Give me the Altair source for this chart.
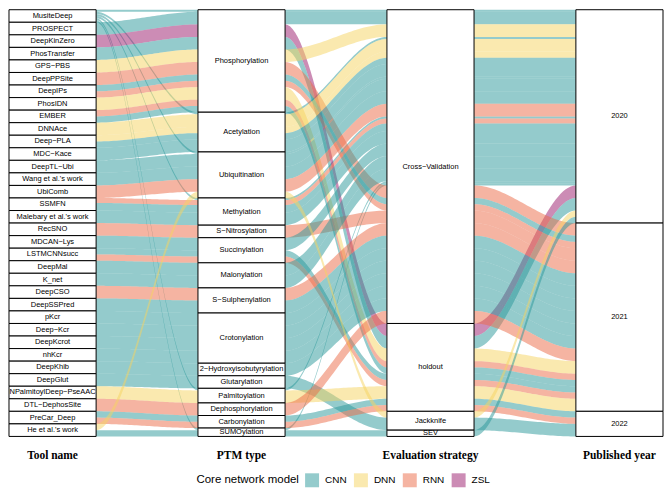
import altair as alt
import pandas as pd

# ---------------- data ----------------
axis_titles = ["Tool name", "PTM type", "Evaluation strategy", "Published year"]

tools = ["MusiteDeep", "PROSPECT", "DeepKinZero", "PhosTransfer", "GPS−PBS", "DeepPPSite",
         "DeepIPs", "PhosIDN", "EMBER", "DNNAce", "Deep−PLA", "MDC−Kace", "DeepTL−Ubi",
         "Wang et al.'s work", "UbiComb", "SSMFN", "Malebary et al.'s work", "RecSNO",
         "MDCAN−Lys", "LSTMCNNsucc", "DeepMal", "K_net", "DeepCSO", "DeepSSPred", "pKcr",
         "Deep−Kcr", "DeepKcrot", "nhKcr", "DeepKhib", "DeepGlut", "NPalmitoylDeep−PseAAC",
         "DTL−DephosSite", "PreCar_Deep", "He et al.'s work"]
ptms = ["Phosphorylation", "Acetylation", "Ubiquitination", "Methylation", "S−Nitrosylation",
        "Succinylation", "Malonylation", "S−Sulphenylation", "Crotonylation",
        "2−Hydroxyisobutyrylation", "Glutarylation", "Palmitoylation", "Dephosphorylation",
        "Carbonylation", "SUMOylation"]
evals = ["Cross−Validation", "holdout", "Jackknife", "SEV"]
years = ["2020", "2021", "2022"]
models = ["CNN", "DNN", "RNN", "ZSL"]
model_colors = ["#2a989a", "#f6d460", "#ec6a45", "#9a1a6c"]

flow_tool = ["MusiteDeep"] * 6 + [
    "PROSPECT", "DeepKinZero", "PhosTransfer", "GPS−PBS", "DeepPPSite", "DeepIPs", "DeepIPs",
    "PhosIDN", "EMBER", "EMBER", "DNNAce", "Deep−PLA", "Deep−PLA", "MDC−Kace", "DeepTL−Ubi",
    "Wang et al.'s work", "UbiComb", "SSMFN", "SSMFN", "Malebary et al.'s work", "RecSNO",
    "MDCAN−Lys", "LSTMCNNsucc", "LSTMCNNsucc", "DeepMal", "K_net", "DeepCSO", "DeepSSPred",
    "pKcr", "Deep−Kcr", "DeepKcrot", "nhKcr", "DeepKhib", "DeepGlut", "NPalmitoylDeep−PseAAC",
    "DTL−DephosSite", "PreCar_Deep", "PreCar_Deep", "He et al.'s work", "He et al.'s work"]
flow_ptm = ["Phosphorylation", "Acetylation", "Ubiquitination", "Methylation", "Palmitoylation",
            "SUMOylation",
            "Phosphorylation", "Phosphorylation", "Phosphorylation", "Phosphorylation",
            "Phosphorylation", "Phosphorylation", "Phosphorylation", "Phosphorylation",
            "Phosphorylation", "Phosphorylation", "Acetylation", "Acetylation", "Acetylation",
            "Acetylation", "Ubiquitination", "Ubiquitination", "Ubiquitination", "Methylation",
            "Methylation", "Methylation", "S−Nitrosylation", "Succinylation", "Succinylation",
            "Succinylation", "Malonylation", "Malonylation", "S−Sulphenylation",
            "S−Sulphenylation", "Crotonylation", "Crotonylation", "Crotonylation",
            "Crotonylation", "2−Hydroxyisobutyrylation", "Glutarylation", "Palmitoylation",
            "Dephosphorylation", "Carbonylation", "Carbonylation", "Ubiquitination",
            "SUMOylation"]
flow_eval = ["Cross−Validation"] * 6 + [
    "Cross−Validation", "holdout", "holdout", "Cross−Validation", "Cross−Validation",
    "Cross−Validation", "Cross−Validation", "holdout", "holdout", "holdout",
    "Cross−Validation", "Cross−Validation", "Cross−Validation", "Cross−Validation",
    "Cross−Validation", "Cross−Validation", "Cross−Validation", "Cross−Validation",
    "Cross−Validation", "Cross−Validation", "Cross−Validation", "Cross−Validation",
    "holdout", "holdout", "Cross−Validation", "Cross−Validation", "Cross−Validation",
    "Cross−Validation", "Cross−Validation", "Cross−Validation", "Cross−Validation",
    "Cross−Validation", "Cross−Validation", "Jackknife", "holdout", "Cross−Validation",
    "holdout", "holdout", "Jackknife", "SEV"]
flow_year = ["2020"] * 6 + [
    "2020", "2020", "2020", "2020", "2021", "2021", "2021", "2021", "2021", "2021",
    "2020", "2020", "2020", "2020", "2020", "2020", "2020", "2020", "2020", "2020",
    "2021", "2020", "2021", "2021", "2020", "2020", "2021", "2021", "2021", "2021",
    "2021", "2021", "2021", "2022", "2021", "2021", "2022", "2022", "2020", "2020"]
flow_model = ["CNN"] * 6 + [
    "CNN", "ZSL", "CNN", "DNN", "RNN", "CNN", "RNN", "DNN", "RNN", "CNN",
    "DNN", "DNN", "CNN", "CNN", "CNN", "CNN", "RNN", "RNN", "CNN", "CNN",
    "RNN", "CNN", "CNN", "RNN", "CNN", "CNN", "RNN", "CNN", "CNN", "CNN",
    "CNN", "CNN", "CNN", "CNN", "DNN", "RNN", "CNN", "RNN", "DNN", "CNN"]
flow_weight = [0.1667] * 6 + [
    1, 1, 1, 1, 1, 0.5, 0.5, 1, 0.5, 0.5,
    1, 0.5, 0.5, 1, 1, 1, 1, 0.4, 0.6, 1,
    1, 1, 0.5, 0.5, 1, 1, 1, 1, 1, 1,
    1, 1, 1, 1, 1, 1, 0.5, 0.5, 0.5, 0.5]

# ---------------- layout (alluvial lodes) ----------------
cats = [tools, ptms, evals, years]
fields = [flow_tool, flow_ptm, flow_eval, flow_year]
N = len(flow_weight)
idx = [[cats[a].index(fields[a][i]) for i in range(N)] for a in range(4)]
prefs = {0: [1, 2, 3], 1: [0, 2, 3], 2: [3, 1, 0], 3: [2, 1, 0]}
total = sum(flow_weight)

lode = [[None] * N for _ in range(4)]
for a in range(4):
    order = sorted(range(N), key=lambda i: (idx[a][i],) + tuple(idx[o][i] for o in prefs[a]) + (i,))
    c = 0.0
    for i in order:
        lode[a][i] = (c, c + flow_weight[i])
        c += flow_weight[i]

hw = 0.2305
box_rows = []
for a in range(4):
    c = 0.0
    for s, name in enumerate(cats[a]):
        w = sum(flow_weight[i] for i in range(N) if idx[a][i] == s)
        box_rows.append(dict(x=a - hw, x2=a + hw, y=c, y2=c + w, xm=a, ym=c + w / 2, label=name))
        c += w
boxes = pd.DataFrame(box_rows)

flow_rows = []
T = 40
for a in range(3):
    for i in range(N):
        (t0, b0), (t1, b1) = lode[a][i], lode[a + 1][i]
        for k in range(T + 1):
            t = k / T
            s = t * t * (3 - 2 * t)
            flow_rows.append(dict(fid=f"{a}_{i}", model=flow_model[i],
                                  x=a + hw + (1 - 2 * hw) * t,
                                  top=t0 + (t1 - t0) * s, bot=b0 + (b1 - b0) * s))
flows_df = pd.DataFrame(flow_rows)

H = 428
title_y = 448 / H * total
titles = pd.DataFrame(dict(x=[0, 1, 2, 3], y=[title_y] * 4, label=axis_titles))

xs = alt.Scale(domain=[-hw, 3 + hw], nice=False, zero=False)
ys = alt.Scale(domain=[0, total], reverse=True, nice=False, zero=False)

FONT = "Liberation Sans"

flows = alt.Chart(flows_df).mark_area(opacity=0.5, interpolate="linear").encode(
    x=alt.X("x:Q", scale=xs, axis=None),
    y=alt.Y("top:Q", scale=ys, axis=None, stack=None),
    y2="bot:Q",
    color=alt.Color("model:N", scale=alt.Scale(domain=models, range=model_colors),
                    legend=alt.Legend(title="Core network model", orient="none",
                                      legendX=188, legendY=465, direction="horizontal",
                                      titleOrient="left", symbolType="square",
                                      symbolSize=196, symbolOpacity=0.5,
                                      symbolStrokeWidth=0, labelFontSize=10,
                                      titleFontSize=11.5, titleFontWeight="normal",
                                      titleFont=FONT, labelFont=FONT,
                                      columnPadding=7, titlePadding=6, labelOffset=6)),
    detail="fid:N",
)

rects = alt.Chart(boxes).mark_rect(fill="white", stroke="black", strokeWidth=1).encode(
    x=alt.X("x:Q", scale=xs, axis=None), x2="x2:Q",
    y=alt.Y("y:Q", scale=ys, axis=None), y2="y2:Q",
)
labels = alt.Chart(boxes).mark_text(fontSize=7.5, font=FONT, color="black").encode(
    x=alt.X("xm:Q", scale=xs, axis=None),
    y=alt.Y("ym:Q", scale=ys, axis=None),
    text="label:N",
)
title_text = alt.Chart(titles).mark_text(fontSize=11.5, fontWeight="bold",
                                         font="Liberation Serif", color="black").encode(
    x=alt.X("x:Q", scale=xs, axis=None),
    y=alt.Y("y:Q", scale=ys, axis=None),
    text="label:N",
)

chart = alt.layer(flows, rects, labels, title_text).properties(
    width=656, height=H, padding=0
).configure_view(strokeWidth=0)

chart.save("out.html", embed_options={"renderer": "svg", "actions": False})
